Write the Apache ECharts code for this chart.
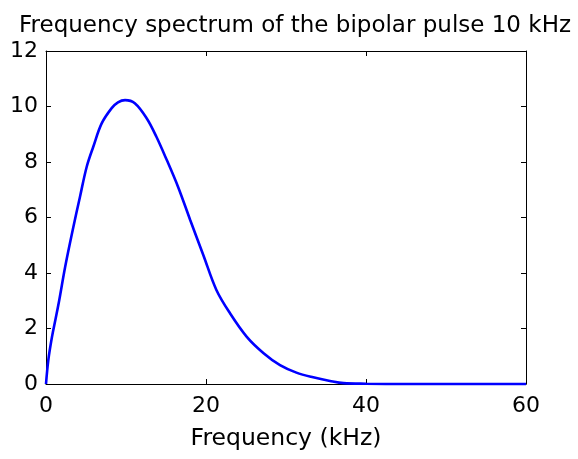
<!DOCTYPE html>
<html>
<head>
<meta charset="utf-8">
<script src="https://cdn.jsdelivr.net/npm/echarts@6/dist/echarts.min.js"></script>
<style>
  html, body { margin: 0; padding: 0; background: #fff; }
  #chart { width: 578px; height: 459px; }
</style>
</head>
<body>
<div id="chart"></div>
<script>
// values
const freqKHz = [0, 0.29, 0.75, 1.2, 1.66, 2.38, 3.34, 4.25, 5.09, 5.91, 6.96, 8.21, 9.0, 9.88, 11.1, 12.6, 13.8, 15.1, 16.5, 18.0, 19.66, 21.3, 23.0, 25.1, 27.2, 29.25, 31.3, 33.4, 35.5, 37.2, 40, 45, 50, 55, 60];
const amplitude = [0, 0.86, 1.70, 2.35, 3.03, 4.2, 5.55, 6.75, 7.83, 8.55, 9.39, 9.94, 10.15, 10.23, 10.12, 9.57, 8.91, 8.07, 7.11, 5.93, 4.65, 3.39, 2.55, 1.70, 1.11, 0.68, 0.41, 0.24, 0.11, 0.03, 0.01, 0, 0, 0, 0];
const xTicks = { min: 0, max: 60, step: 20 };
const yTicks = { min: 0, max: 12, step: 2 };

const font = "'DejaVu Sans', 'Liberation Sans', sans-serif";
const points = freqKHz.map((f, i) => [f, amplitude[i]]);

const chart = echarts.init(document.getElementById('chart'));

const boxAxis = {
  axisLine: { show: true, onZero: false, lineStyle: { color: '#000', width: 1 } },
  axisTick: { show: true, inside: true, length: 5, lineStyle: { color: '#000' } },
  splitLine: { show: false }
};

chart.setOption({
  animation: false,
  backgroundColor: '#fff',
  title: {
    text: 'Frequency spectrum of the bipolar pulse 10 kHz',
    left: 14,
    top: 10,
    textStyle: { fontFamily: font, fontSize: 23, fontWeight: 'normal', color: '#000' }
  },
  grid: {
    left: 46,
    right: 52,
    top: 51,
    bottom: 75,
    containLabel: false,
    outerBoundsMode: 'none'
  },
  xAxis: [
    {
      type: 'value',
      min: xTicks.min,
      max: xTicks.max,
      interval: xTicks.step,
      position: 'bottom',
      name: 'Frequency (kHz)',
      nameLocation: 'middle',
      nameGap: 43,
      nameTextStyle: { fontFamily: font, fontSize: 23.5, color: '#000' },
      axisLabel: { fontFamily: font, fontSize: 22, color: '#000', margin: 11 },
      ...boxAxis
    },
    {
      type: 'value',
      min: xTicks.min,
      max: xTicks.max,
      interval: xTicks.step,
      position: 'top',
      axisLabel: { show: false },
      ...boxAxis
    }
  ],
  yAxis: [
    {
      type: 'value',
      min: yTicks.min,
      max: yTicks.max,
      interval: yTicks.step,
      position: 'left',
      axisLabel: { fontFamily: font, fontSize: 22, color: '#000', margin: 8 },
      ...boxAxis
    },
    {
      type: 'value',
      min: yTicks.min,
      max: yTicks.max,
      interval: yTicks.step,
      position: 'right',
      axisLabel: { show: false },
      ...boxAxis
    }
  ],
  series: [
    {
      type: 'line',
      data: points,
      showSymbol: false,
      smooth: 0.35,
      clip: false,
      lineStyle: { color: '#0000ff', width: 2.6 },
      z: 3
    }
  ]
});
</script>
</body>
</html>
